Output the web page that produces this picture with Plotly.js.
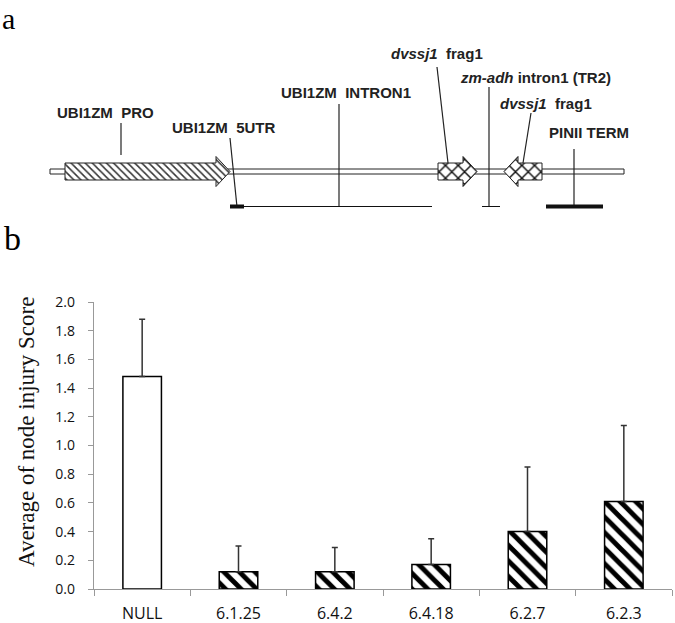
<!DOCTYPE html>
<html>
<head>
<meta charset="utf-8">
<script src="https://cdn.plot.ly/plotly-3.0.1.min.js"></script>
<style>
  body { margin: 0; background: white; }
  #grafikas { width: 675px; height: 623px; }
</style>
</head>
<body>
<div id="grafikas"></div>
<script>
// b dalis - stulpeliai
var linijos = ['NULL', '6.1.25', '6.4.2', '6.4.18', '6.2.7', '6.2.3'];
var vidurkiai = [1.48, 0.12, 0.12, 0.17, 0.40, 0.61];
var klaidos = [0.40, 0.18, 0.17, 0.18, 0.45, 0.53];
var rastai = ['', '\\', '\\', '\\', '\\', '\\'];

// a dalis - konstrukcijos schema (pikseliai nuo virsaus)
var stuburas = [50, 624];
var rodykliuPradzia = [65, 438, 542];
var rodykliuGalvos = [216, 463, 518];
var rodykliuGalai = [230, 477, 504];
var rodykliuRastai = ['\\', 'x', 'x'];

var zymes = ['UBI1ZM&nbsp;&nbsp;PRO', 'UBI1ZM&nbsp;&nbsp;5UTR', 'UBI1ZM&nbsp;&nbsp;INTRON1',
             '<i>dvssj1</i>&nbsp;&nbsp;frag1', '<i>zm-adh</i> intron1&nbsp;(TR2)',
             '<i>dvssj1</i>&nbsp;&nbsp;frag1', 'PINII TERM'];
var zymiuX = [55, 170, 279, 389, 458, 498, 547];
var zymiuY = [112, 127, 92, 53, 77, 103, 132];
var linX0 = [121, 230, 339, 437, 489, 531, 574];
var linY0 = [123, 138, 104, 67, 87, 113, 149];
var linX1 = [121, 237, 339, 448, 489, 523, 574];
var linY1 = [155, 207, 206, 163, 206, 163, 206];

// apatiniai segmentai: [nuo, iki, storis]
var segNuo = [230, 244, 482, 546];
var segIki = [244, 432, 500, 603];
var segStoris = [4, 1, 1, 4];

var data = [];
var yc = 171.5;
for (let i = 0; i < rodykliuPradzia.length; i++) {
    let a = rodykliuPradzia[i], h = rodykliuGalvos[i], e = rodykliuGalai[i];
    data.push({
        x: [a, h, h, e, h, h, a, a],
        y: [yc - 8.5, yc - 8.5, yc - 15, yc, yc + 15, yc + 8.5, yc + 8.5, yc - 8.5],
        xaxis: 'x2', yaxis: 'y2',
        mode: 'lines',
        fill: 'toself',
        fillcolor: 'white',
        fillpattern: rodykliuRastai[i] == 'x'
            ? { shape: 'x', fgcolor: '#111', bgcolor: 'white', size: 9, solidity: 0.3 }
            : { shape: '\\', fgcolor: '#333', bgcolor: 'white', size: 5, solidity: 0.3 },
        line: { color: '#222', width: 1 },
        hoverinfo: 'skip',
        showlegend: false
    });
}

data.push({
    x: linijos,
    y: vidurkiai,
    type: 'bar',
    marker: {
        color: 'white',
        line: { color: 'black', width: 1.5 },
        pattern: { shape: rastai, fgcolor: 'black', bgcolor: 'white', size: 11, solidity: 0.45 }
    },
    error_y: {
        type: 'data', symmetric: false, array: klaidos,
        arrayminus: klaidos.map(v => 0),
        color: '#333', thickness: 1.5, width: 3
    },
    hoverinfo: 'skip',
    showlegend: false
});

// nematomas pedsakas, kad y3 asis (skaiciai) butu nupiesta
data.push({
    x: linijos,
    y: vidurkiai,
    yaxis: 'y3',
    type: 'scatter',
    mode: 'markers',
    marker: { opacity: 0, size: 1 },
    hoverinfo: 'skip',
    showlegend: false
});

var shapes = [];
shapes.push({
    type: 'rect', xref: 'x2', yref: 'y2', layer: 'below',
    x0: stuburas[0], x1: stuburas[1], y0: 169, y1: 174,
    fillcolor: 'white', line: { color: '#222', width: 1 }
});
for (let i = 0; i < linX0.length; i++) {
    shapes.push({
        type: 'line', xref: 'x2', yref: 'y2',
        x0: linX0[i], y0: linY0[i], x1: linX1[i], y1: linY1[i],
        line: { color: '#222', width: 1.2 }
    });
}
for (let i = 0; i < segNuo.length; i++) {
    shapes.push({
        type: 'line', xref: 'x2', yref: 'y2',
        x0: segNuo[i], y0: 206.5, x1: segIki[i], y1: 206.5,
        line: { color: '#111', width: segStoris[i] }
    });
}

var annotations = [];
for (let i = 0; i < zymes.length; i++) {
    annotations.push({
        xref: 'x2', yref: 'y2', x: zymiuX[i], y: zymiuY[i],
        text: '<b>' + zymes[i] + '</b>',
        showarrow: false, xanchor: 'left', yanchor: 'middle',
        font: { family: 'Liberation Sans, Arial', size: 15, color: '#222' }
    });
}
annotations.push({
    xref: 'paper', yref: 'paper', x: 0, y: 1 - 18 / 623, xanchor: 'left', yanchor: 'middle',
    text: 'a', showarrow: false,
    font: { family: 'Liberation Serif, Times New Roman', size: 30, color: 'black' }
});
annotations.push({
    xref: 'paper', yref: 'paper', x: 0.003, y: 1 - 218 / 623, xanchor: 'left', yanchor: 'top',
    text: 'b', showarrow: false,
    font: { family: 'Liberation Serif, Times New Roman', size: 34, color: 'black' }
});
annotations.push({
    xref: 'paper', yref: 'paper', x: 27 / 675, y: 1 - 432 / 623,
    xanchor: 'center', yanchor: 'middle', textangle: -90,
    text: 'Average of node injury Score', showarrow: false,
    font: { family: 'Liberation Serif, Times New Roman', size: 23, color: '#111' }
});

var yDomenas = [(623 - 589) / 623, (623 - 302) / 623];

var layout = {
    width: 675,
    height: 623,
    margin: { l: 0, r: 0, t: 0, b: 0 },
    paper_bgcolor: 'white',
    plot_bgcolor: 'rgba(0,0,0,0)',
    bargap: 0.6,
    xaxis: {
        domain: [94 / 675, 672 / 675],
        type: 'category',
        range: [-0.5, 5.5],
        tickson: 'boundaries',
        ticks: 'outside', ticklen: 6, tickcolor: '#999',
        ticklabelstandoff: 10,
        showline: true, linecolor: '#999', linewidth: 1,
        showgrid: false, zeroline: false,
        tickfont: { family: 'Open Sans', size: 16, color: '#111' }
    },
    yaxis: {
        domain: yDomenas,
        range: [0, 2],
        dtick: 0.2,
        ticks: 'outside', ticklen: 5, tickcolor: '#999',
        showticklabels: false,
        showline: true, linecolor: '#999', linewidth: 1,
        showgrid: false, zeroline: false
    },
    // tik skaiciai, atitraukti nuo asies
    yaxis3: {
        overlaying: 'y',
        anchor: 'free',
        side: 'left',
        position: 75 / 675,
        range: [0, 2],
        dtick: 0.2, tickformat: '.1f',
        ticks: '', showline: false, showgrid: false, zeroline: false,
        tickfont: { family: 'Open Sans', size: 14, color: '#111' }
    },
    xaxis2: {
        domain: [0, 1], range: [0, 675], visible: false, fixedrange: true
    },
    yaxis2: {
        domain: [(623 - 215) / 623, 1], range: [215, 0], visible: false, fixedrange: true
    },
    shapes: shapes,
    annotations: annotations
};

Plotly.newPlot('grafikas', data, layout, { staticPlot: true });
</script>
</body>
</html>
